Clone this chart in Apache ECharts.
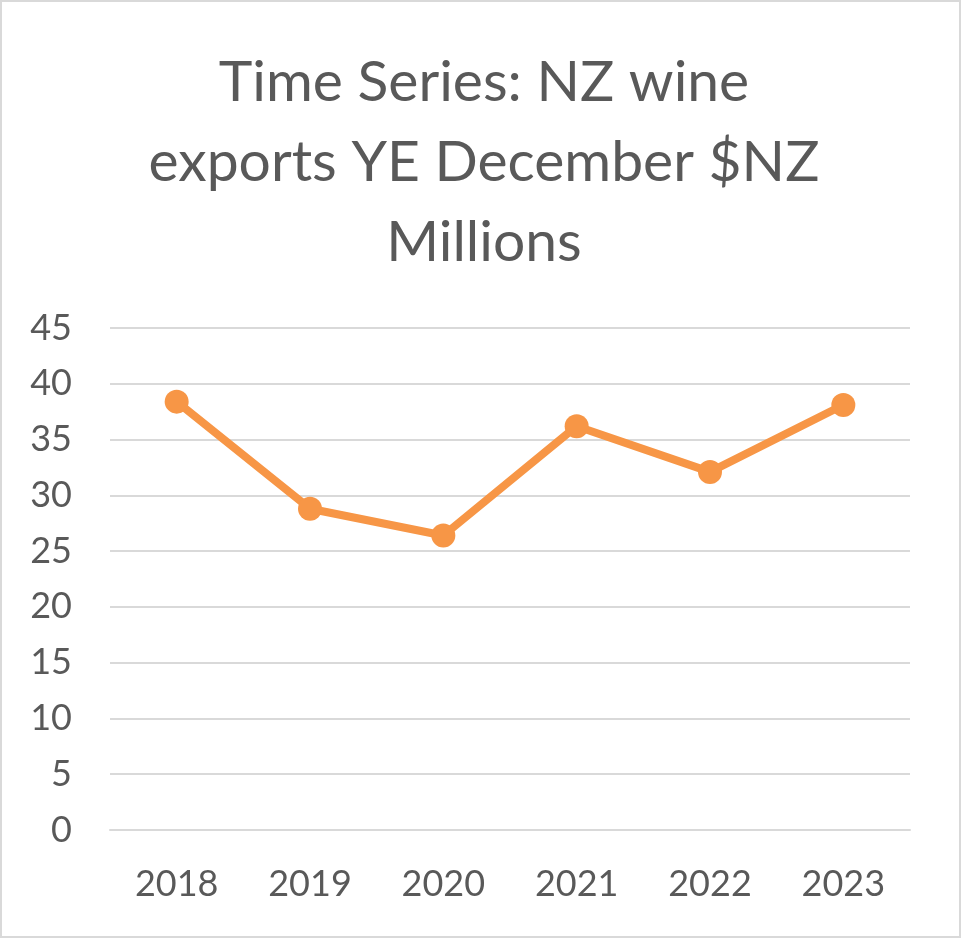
<!DOCTYPE html>
<html>
<head>
<meta charset="utf-8">
<script src="https://cdn.jsdelivr.net/npm/echarts@6/dist/echarts.min.js"></script>
<style>
  html, body { margin: 0; padding: 0; background: #fff; }
  #frame { position: absolute; left: 0; top: 0; width: 957px; height: 934px; border: 2px solid #d9d9d9; }
  #chart { position: absolute; left: 0; top: 0; width: 962px; height: 939px; }
</style>
</head>
<body>
<div id="frame"></div>
<div id="chart"></div>
<script>
  // 数据
  const years = ['2018', '2019', '2020', '2021', '2022', '2023'];
  const exportsNZD = [38.4, 28.8, 26.4, 36.2, 32.1, 38.1];
  const titleLines = ['Time Series: NZ wine', 'exports YE December $NZ', 'Millions'];

  const C = {
    ink: '#595959',
    grid: '#d9d9d9',
    line: '#f79646',
  };
  const FONT = 'Lato, "Open Sans", sans-serif';

  const chart = echarts.init(document.getElementById('chart'), null, { renderer: 'canvas' });
  chart.setOption({
    backgroundColor: 'transparent',
    animation: false,
    title: {
      text: titleLines.join('\n'),
      left: 479,
      top: 38,
      textAlign: 'center',
      textStyle: { color: C.ink, fontFamily: FONT, fontSize: 57, fontWeight: 'normal', lineHeight: 80 },
    },
    grid: { left: 110, right: 52, top: 328, bottom: 109, containLabel: false },
    xAxis: {
      type: 'category',
      data: years,
      axisLine: { show: true, lineStyle: { color: C.grid, width: 2 } },
      axisTick: { show: false },
      axisLabel: { color: C.ink, fontFamily: FONT, fontSize: 36, margin: 36 },
    },
    yAxis: {
      type: 'value',
      min: 0,
      max: 45,
      interval: 5,
      axisLine: { show: false },
      axisTick: { show: false },
      splitLine: { lineStyle: { color: C.grid, width: 2 } },
      axisLabel: { color: C.ink, fontFamily: FONT, fontSize: 36, margin: 38 },
    },
    series: [{
      type: 'line',
      data: exportsNZD,
      symbol: 'circle',
      symbolSize: 24,
      lineStyle: { color: C.line, width: 8 },
      itemStyle: { color: C.line },
    }],
  });
</script>
</body>
</html>
